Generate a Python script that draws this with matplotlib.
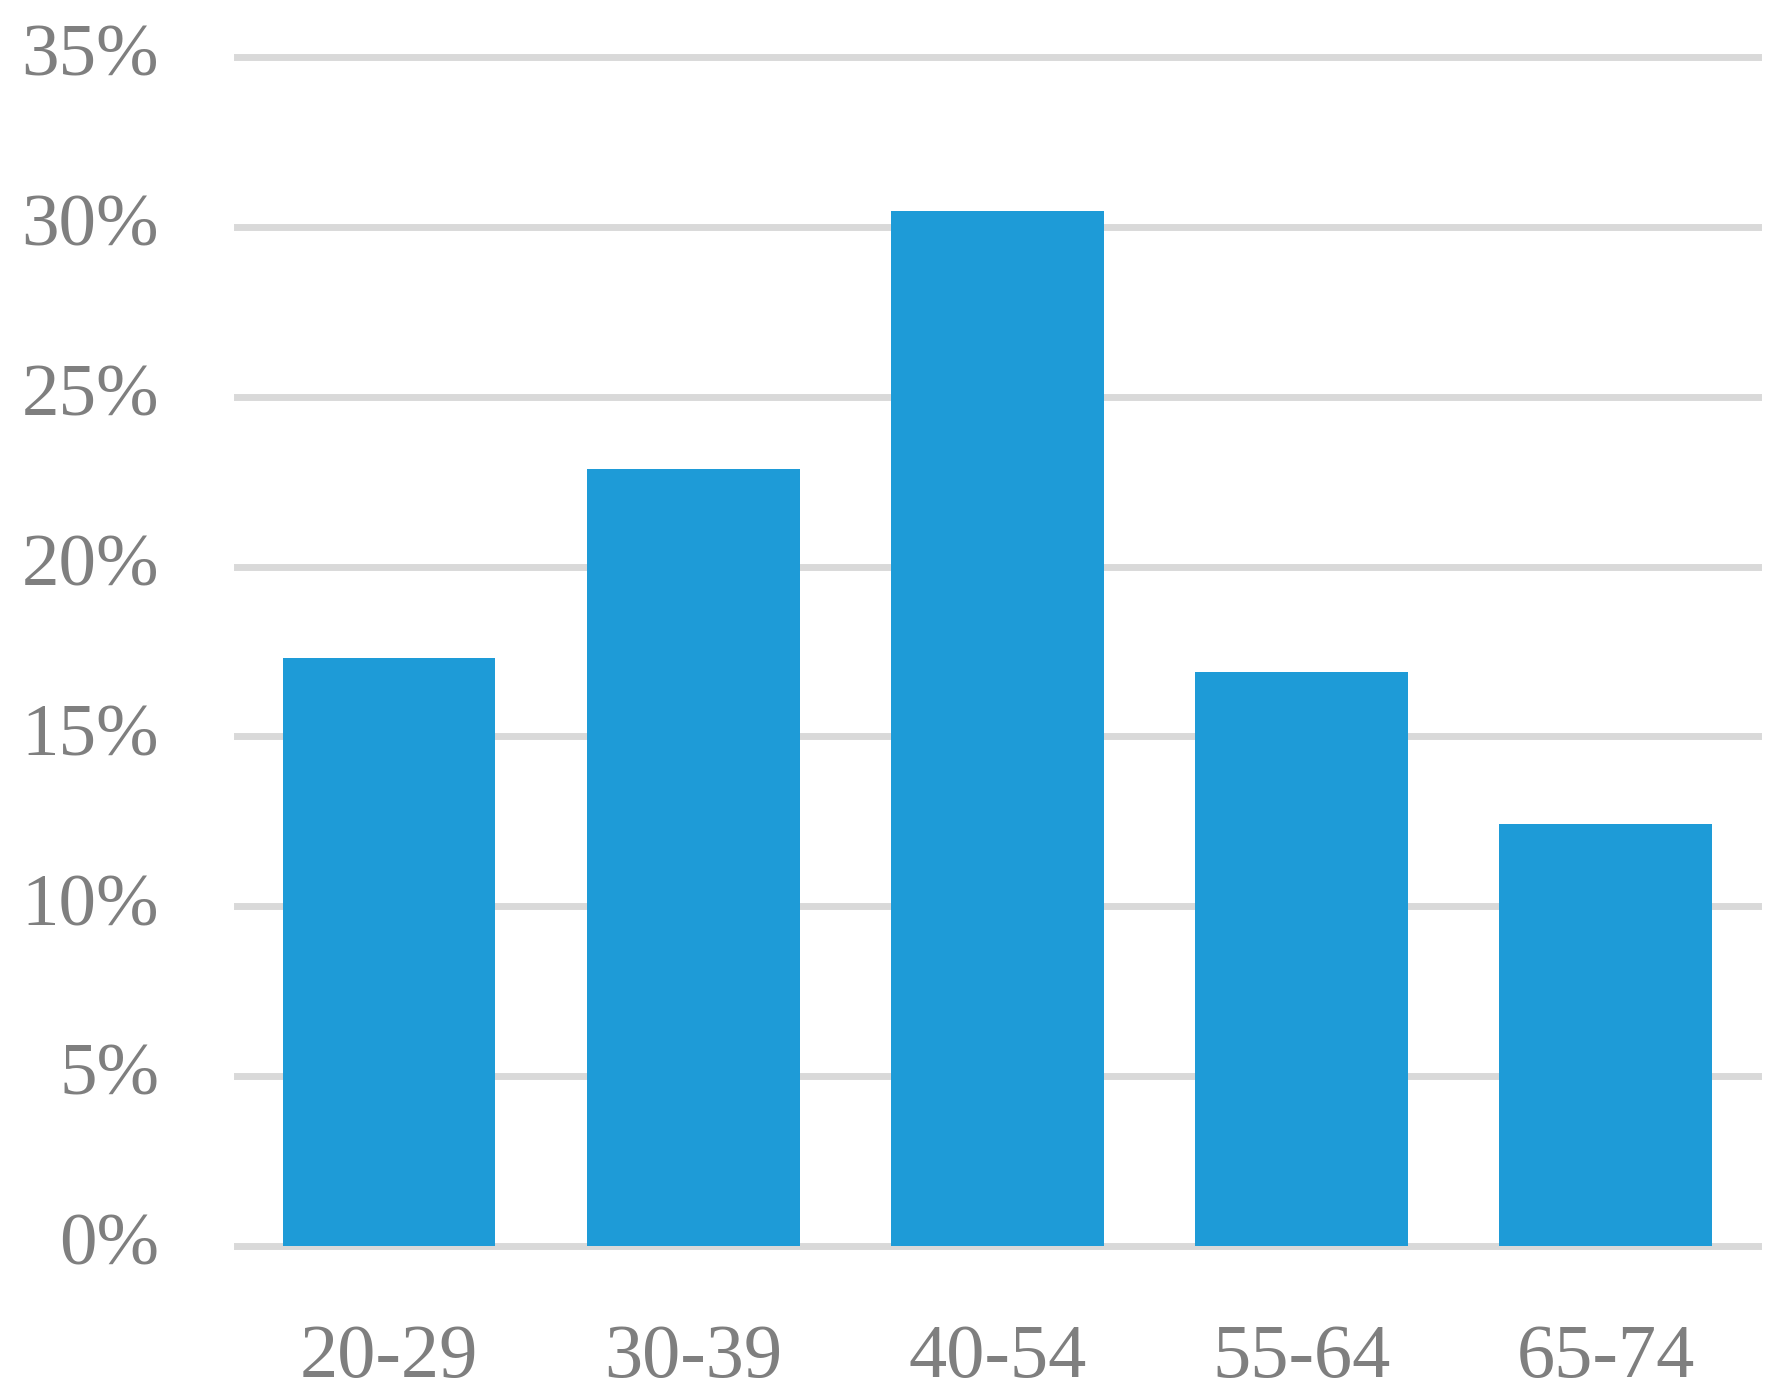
import matplotlib
matplotlib.use("Agg")
import matplotlib.pyplot as plt
import matplotlib.transforms as mtransforms
from matplotlib.ticker import FuncFormatter

# Age group shares (fraction)
age_groups = ["20-29", "30-39", "40-54", "55-64", "65-74"]
shares = [0.1731, 0.2287, 0.3048, 0.1691, 0.1242]
y_ticks = [0, 0.05, 0.10, 0.15, 0.20, 0.25, 0.30, 0.35]

plt.rcParams['font.family'] = ['Liberation Serif', 'DejaVu Serif']

fig = plt.figure(figsize=(17.84, 13.97), dpi=100)
ax = fig.add_axes([0.1328, 0.1081, 0.8526, 0.8511])

ax.bar(range(len(age_groups)), shares, width=0.70, color="#1e9bd7", zorder=3)

ax.set_xlim(-0.5, len(age_groups) - 0.5)
ax.set_ylim(0, 0.35)
ax.set_yticks(y_ticks)
ax.yaxis.set_major_formatter(FuncFormatter(lambda v, _: f"{v * 100:.0f}%"))
ax.set_xticks(range(len(age_groups)))
ax.set_xticklabels(age_groups)

# Horizontal gridlines, drawn without clipping so the top/bottom ones show fully
for t in y_ticks:
    ax.axhline(t, color="#d9d9d9", linewidth=5, zorder=1, clip_on=False)

for s in ax.spines.values():
    s.set_visible(False)
ax.tick_params(axis="both", length=0, labelcolor="#7f7f7f")
ax.tick_params(axis="y", pad=56, labelsize=54)
ax.tick_params(axis="x", pad=56, labelsize=55)

# nudge the y labels up a little so they sit on the gridlines like the original
shift = mtransforms.ScaledTranslation(0, 5 / 72, fig.dpi_scale_trans)
for lbl in ax.get_yticklabels():
    lbl.set_transform(lbl.get_transform() + shift)

plt.savefig("out.png")
